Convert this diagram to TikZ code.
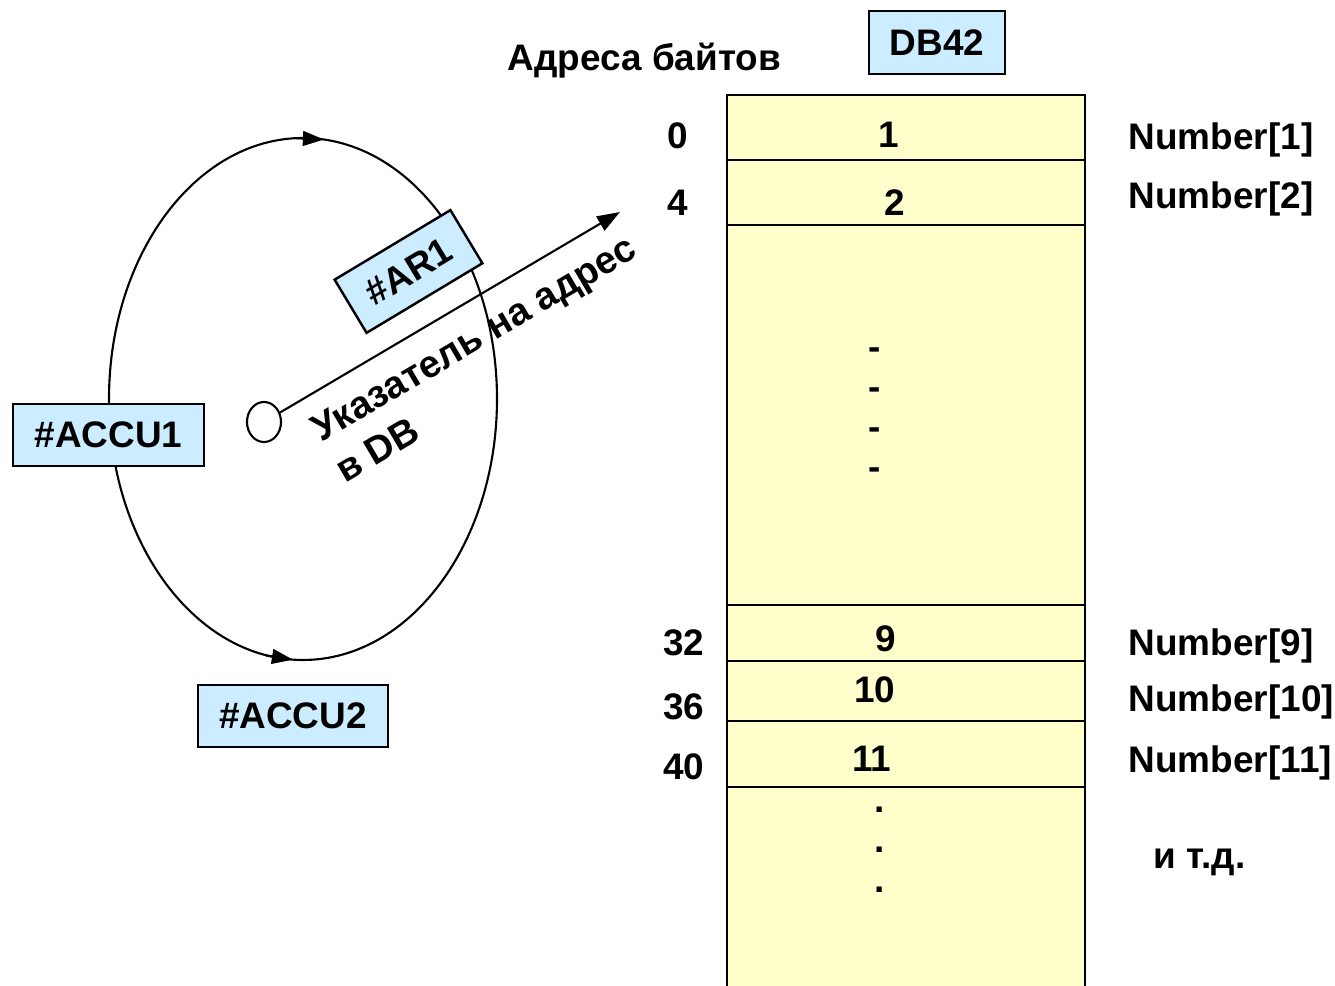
\documentclass[tikz,border=0pt]{standalone}
\usepackage{fontspec}
\setmainfont{Liberation Sans}
\usetikzlibrary{arrows.meta,shapes.geometric}
\definecolor{regblue}{RGB}{204,236,255}
\definecolor{memyellow}{RGB}{255,255,204}

\tikzset{
  txt/.style={font=\fontsize{10.5}{13}\selectfont\bfseries, inner sep=0pt},
  regbox/.style={txt, draw, line width=0.7pt, fill=regblue},
  thin line/.style={line width=0.6pt},
  ring tip/.style={-{Triangle[length=6pt,width=4.2pt]}},
}

\begin{document}
\begin{tikzpicture}[x=0.01cm, y=-0.01cm]
	%%%%% START %%%%%
	\useasboundingbox (0,0) rectangle (1335,986);
	
	% accumulator ring
	\draw[thin line] (303,399) ellipse [x radius=194, y radius=261];
	\draw[thin line, ring tip] (296,138.2) -- (324,139.5);
	\draw[thin line, ring tip] (266,655.5) -- (293,659.7);
	
	\node[regbox, minimum width=1.91cm, minimum height=0.62cm] (accuone) at (108.5,435) {\#ACCU1};
	\node[regbox, minimum width=1.90cm, minimum height=0.62cm] (accutwo) at (293,716) {\#ACCU2};
	\node[regbox, rotate=31, minimum width=1.35cm, minimum height=0.62cm] (arone) at (408.5,271.5) {\#AR1};
	
	% pointer into the data block
	\node[thin line, draw, ellipse, fill=white, minimum width=0.34cm, minimum height=0.4cm, inner sep=0pt] (ptr) at (264,422) {};
	\coordinate (ptrend) at (620,212);
	\draw[thin line, -{Triangle[length=6.5pt,width=4.6pt]}] (ptr) -- (ptrend);
	\node[txt, font=\fontsize{10.9}{13.5}\selectfont\bfseries, rotate=30.5, anchor=north west, align=left] (ptrtxt) at (307,420) {Указатель на адрес\\в DB};
	
	% data block
	\node[regbox, minimum width=1.36cm, minimum height=0.63cm] (dbname) at (937,42.5) {DB42};
	\node[txt, anchor=base west] (addrhead) at (507,71) {Адреса байтов};
	
	\fill[memyellow] (727,95) rectangle (1085,986);
	\draw[line width=0.8pt] (727,986) -- (727,95) -- (1085,95) -- (1085,986);
	\foreach \y in {160,225,605,661,721,787}
		\draw[line width=0.7pt] (727,\y) -- (1085,\y);
	
	\node[txt, anchor=base] (cellone) at (889,148) {1};
	\node[txt, anchor=base] (celltwo) at (895,216) {2};
	\foreach \y in {360,400,440,480}
		\node[txt, anchor=base] at (875,\y) {-};
	\node[txt, anchor=base] (cellnine) at (886,652) {9};
	\node[txt, anchor=base] (cellten) at (875,703) {10};
	\node[txt, anchor=base] (celleleven) at (872,772) {11};
	\foreach \y in {813,853,893}
		\node[txt, anchor=base] at (879.5,\y) {.};
	
	% byte addresses
	\node[txt, anchor=base] (addrzero) at (678,149) {0};
	\node[txt, anchor=base] (addrfour) at (678,216) {4};
	\node[txt, anchor=base] (addrtt) at (684,656) {32};
	\node[txt, anchor=base] (addrts) at (684,720) {36};
	\node[txt, anchor=base] (addrforty) at (684,780) {40};
	
	% array elements
	\node[txt, anchor=base west] (numone) at (1128,150) {Number[1]};
	\node[txt, anchor=base west] (numtwo) at (1128,209) {Number[2]};
	\node[txt, anchor=base west] (numnine) at (1128,656) {Number[9]};
	\node[txt, anchor=base west] (numten) at (1128,712) {Number[10]};
	\node[txt, anchor=base west] (numeleven) at (1128,773) {Number[11]};
	\node[txt, anchor=base west] (etc) at (1153,869) {и т.д.};
	
	%%%%% END %%%%%
\end{tikzpicture}
\end{document}
